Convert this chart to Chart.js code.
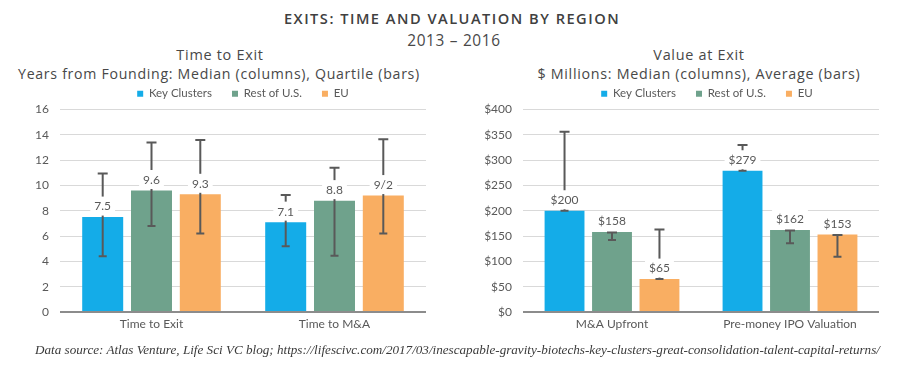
<!DOCTYPE html>
<html>
<head>
<meta charset="utf-8">
<script src="https://cdn.jsdelivr.net/npm/chart.js@4.4.0/dist/chart.umd.min.js"></script>
<style>
  body { margin: 0; width: 900px; height: 365px; overflow: hidden; position: relative; background: #fff; font-family: Lato, sans-serif; color: #404040; }
  .txt { position: absolute; white-space: nowrap; transform: translate(-50%, -50%); font-family: "Open Sans", sans-serif; letter-spacing: 0.7px; color: #484848; }
  .panel { position: absolute; top: 60px; width: 450px; height: 284px; }
  #foot { position: absolute; left: 35px; top: 350px; transform: translate(0, -50%); white-space: nowrap; font-family: "Liberation Serif", serif; font-style: italic; color: #3a3a3a; }
</style>
</head>
<body>
<div class="txt" id="mainTitle" style="left:452px;top:18px;font-weight:600;letter-spacing:1.5px;color:#404040">EXITS: TIME AND VALUATION BY REGION</div>
<div class="txt" id="mainSub" style="left:454px;top:40px">2013 – 2016</div>
<div class="txt" id="leftTitle" style="left:220px;top:54px">Time to Exit</div>
<div class="txt" id="leftSub" style="left:219px;top:73px">Years from Founding: Median (columns), Quartile (bars)</div>
<div class="txt" id="rightTitle" style="left:699px;top:54px">Value at Exit</div>
<div class="txt" id="rightSub" style="left:699px;top:73px">$ Millions: Median (columns), Average (bars)</div>
<div class="panel" style="left:0"><canvas id="timeChart" width="450" height="284"></canvas></div>
<div class="panel" style="left:450px"><canvas id="valueChart" width="450" height="284"></canvas></div>
<div id="foot">Data source: Atlas Venture, Life Sci VC blog; https://lifescivc.com/2017/03/inescapable-gravity-biotechs-key-clusters-great-consolidation-talent-capital-returns/</div>

<script>
// data
const regions = ['Key Clusters', 'Rest of U.S.', 'EU'];
const regionColors = ['#14ACE8', '#6FA28C', '#F9AE62'];

const timeCategories = ['Time to Exit', 'Time to M&A'];
const timeKeyClusters = [7.5, 7.1];
const timeRestUS = [9.6, 8.8];
const timeEU = [9.3, 9.2];
const timeLowKeyClusters = [4.4, 5.2];
const timeHighKeyClusters = [10.95, 9.25];
const timeLowRestUS = [6.8, 4.45];
const timeHighRestUS = [13.4, 11.4];
const timeLowEU = [6.2, 6.2];
const timeHighEU = [13.6, 13.65];
const timeLabelsKeyClusters = ['7.5', '7.1'];
const timeLabelsRestUS = ['9.6', '8.8'];
const timeLabelsEU = ['9.3', '9/2'];
const timeTicks = [0, 2, 4, 6, 8, 10, 12, 14, 16];

const valueCategories = ['M&A Upfront', 'Pre-money IPO Valuation'];
const valueKeyClusters = [200, 279];
const valueRestUS = [158, 162];
const valueEU = [65, 153];
const valueLowKeyClusters = [200, 279];
const valueHighKeyClusters = [356, 330];
const valueLowRestUS = [142, 136];
const valueHighRestUS = [157, 161];
const valueLowEU = [65, 109];
const valueHighEU = [163, 152];
const valueTicks = [0, 50, 100, 150, 200, 250, 300, 350, 400];

// size a text block to the width it has in the reference
function fitWidth(id, w, base) {
  const el = document.getElementById(id);
  el.style.fontSize = base + 'px';
  const cur = el.getBoundingClientRect().width;
  el.style.fontSize = (base * w / cur).toFixed(2) + 'px';
}
fitWidth('mainTitle', 335, 15);
fitWidth('mainSub', 94, 15);
fitWidth('leftTitle', 87, 15);
fitWidth('leftSub', 400, 15);
fitWidth('rightTitle', 91, 15);
fitWidth('rightSub', 322, 15);
fitWidth('foot', 845, 13);

const tickColor = '#595959';

// error bars + value labels with white box
const errorBarsPlugin = {
  id: 'errorBars',
  beforeDraw(chart) {
    // nudge the legend so it sits where the reference has it
    const dx = chart.options.legendShift || 0;
    if (dx && !chart.$shifted) {
      chart.legend.left += dx;
      chart.legend.right += dx;
      chart.$shifted = true;
    }
  },
  afterDatasetsDraw(chart) {
    const ctx = chart.ctx;
    const ys = chart.scales.y;
    ctx.save();
    ctx.strokeStyle = '#595959';
    ctx.lineWidth = 2;
    chart.data.datasets.forEach((ds, i) => {
      chart.getDatasetMeta(i).data.forEach((bar, j) => {
        const lo = ys.getPixelForValue(ds.errLow[j]);
        const hi = ys.getPixelForValue(ds.errHigh[j]);
        ctx.beginPath();
        ctx.moveTo(bar.x, lo); ctx.lineTo(bar.x, hi);
        ctx.moveTo(bar.x - 5, hi); ctx.lineTo(bar.x + 5, hi);
        ctx.moveTo(bar.x - 4, lo); ctx.lineTo(bar.x + 4, lo);
        ctx.stroke();
      });
    });
    ctx.font = '12px Lato';
    ctx.textAlign = 'center';
    ctx.textBaseline = 'middle';
    chart.data.datasets.forEach((ds, i) => {
      chart.getDatasetMeta(i).data.forEach((bar, j) => {
        const txt = ds.valueLabels[j];
        const w = ctx.measureText(txt).width + 8;
        const y = bar.y - 11;
        ctx.fillStyle = '#fff';
        ctx.fillRect(bar.x - w / 2, y - 9.5, w, 19);
        ctx.fillStyle = tickColor;
        ctx.fillText(txt, bar.x, y + 0.5);
      });
    });
    ctx.restore();
  }
};

function makeChart(id, categories, sets, yMax, yStep, yFmt, axisWidth, padRight, legendShift) {
  return new Chart(document.getElementById(id), {
    type: 'bar',
    data: {
      labels: categories,
      datasets: sets.map((s, k) => ({
        label: regions[k],
        data: s.values,
        errLow: s.low,
        errHigh: s.high,
        valueLabels: s.labels,
        backgroundColor: regionColors[k],
        categoryPercentage: 0.8,
        barPercentage: 0.84
      }))
    },
    options: {
      responsive: false,
      animation: false,
      legendShift: legendShift,
      layout: { padding: { top: 8, right: padRight, left: 0, bottom: 0 } },
      plugins: {
        tooltip: { enabled: false },
        legend: {
          position: 'top',
          fullSize: false,
          labels: { boxWidth: 6, boxHeight: 6, padding: 20, color: tickColor, font: { family: 'Lato', size: 11.5 } }
        }
      },
      scales: {
        x: {
          grid: { display: false, drawTicks: false },
          border: { display: false },
          ticks: { color: tickColor, font: { family: 'Lato', size: 12 }, padding: 5 },
          afterFit(s) { s.height = 32; }
        },
        y: {
          min: 0, max: yMax,
          ticks: { stepSize: yStep, color: tickColor, font: { family: 'Lato', size: 12 }, padding: 11, callback: yFmt },
          grid: {
            drawTicks: false,
            color: c => c.tick.value === 0 ? '#8c8c8c' : '#d9d9d9',
            lineWidth: c => c.tick.value === 0 ? 2 : 1
          },
          border: { display: false },
          afterFit(s) { s.width = axisWidth; }
        }
      }
    },
    plugins: [errorBarsPlugin]
  });
}

makeChart('timeChart', timeCategories, [
  { values: timeKeyClusters, low: timeLowKeyClusters, high: timeHighKeyClusters, labels: timeLabelsKeyClusters },
  { values: timeRestUS, low: timeLowRestUS, high: timeHighRestUS, labels: timeLabelsRestUS },
  { values: timeEU, low: timeLowEU, high: timeHighEU, labels: timeLabelsEU }
], timeTicks[timeTicks.length - 1], timeTicks[1] - timeTicks[0], v => v, 60, 24, 0);

makeChart('valueChart', valueCategories, [
  { values: valueKeyClusters, low: valueLowKeyClusters, high: valueHighKeyClusters, labels: valueKeyClusters.map(v => '$' + v) },
  { values: valueRestUS, low: valueLowRestUS, high: valueHighRestUS, labels: valueRestUS.map(v => '$' + v) },
  { values: valueEU, low: valueLowEU, high: valueHighEU, labels: valueEU.map(v => '$' + v) }
], valueTicks[valueTicks.length - 1], valueTicks[1] - valueTicks[0], v => '$' + v, 73, 21, 6);
</script>
</body>
</html>
